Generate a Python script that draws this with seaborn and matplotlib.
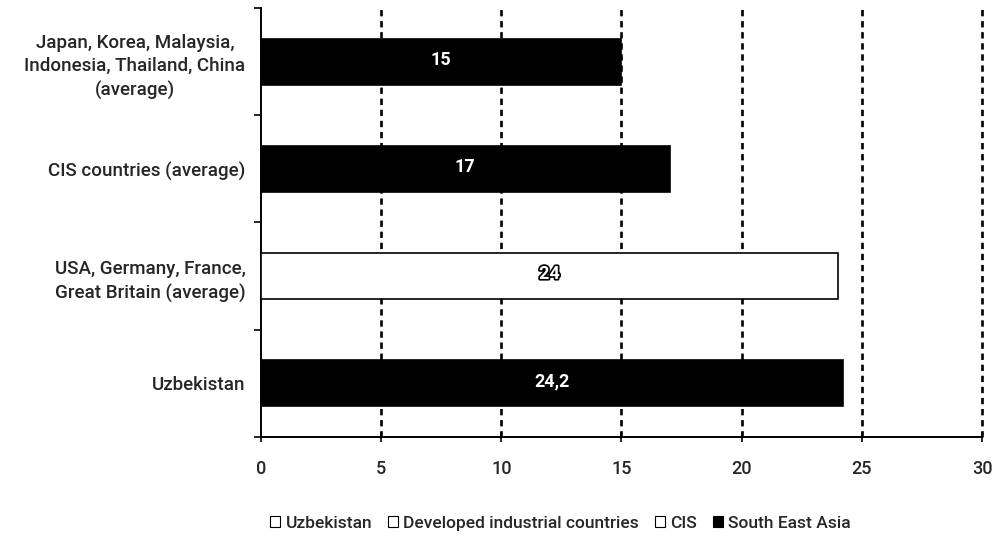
import matplotlib
matplotlib.use("Agg")
import matplotlib.pyplot as plt
import matplotlib.patheffects as pe
from matplotlib.patches import Patch
import seaborn as sns
import pandas as pd

# Category labels (top to bottom) and their values
categories = [
    "Japan, Korea, Malaysia,\nIndonesia, Thailand, China\n(average)",
    "CIS countries (average)",
    "USA, Germany, France,\nGreat Britain (average)",
    "Uzbekistan",
]
values = [15, 17, 24, 24.2]
value_labels = ["15", "17", "24", "24,2"]
bar_colors = ["black", "black", "white", "black"]

legend_labels = ["Uzbekistan", "Developed industrial countries", "CIS", "South East Asia"]
legend_colors = ["white", "white", "white", "black"]

x_ticks = [0, 5, 10, 15, 20, 25, 30]

sns.set_theme(style="white")
plt.rcParams["font.family"] = ["Roboto", "DejaVu Sans"]
plt.rcParams["font.weight"] = "medium"

df = pd.DataFrame({"category": categories, "value": values})

fig = plt.figure(figsize=(9.92, 5.42), dpi=100)
ax = fig.add_axes([0.263, 0.194, 0.727, 0.791])

sns.barplot(
    data=df, x="value", y="category", hue="category", orient="h",
    palette=dict(zip(categories, bar_colors)), width=0.43,
    edgecolor="black", linewidth=1.2, legend=False, ax=ax, zorder=3,
)

# Value labels centred on each bar
for i, (v, txt, c) in enumerate(zip(values, value_labels, bar_colors)):
    t = ax.text(v / 2, i - 0.02, txt, ha="center", va="center",
                color="white", fontsize=13, fontweight="bold", zorder=5)
    if c == "white":
        t.set_path_effects([pe.withStroke(linewidth=2.4, foreground="black")])

# Dashed vertical gridlines
for xv in x_ticks[1:]:
    ax.axvline(xv, color="black", linewidth=1.9, linestyle=(0, (2.4, 1.8)),
               zorder=1, clip_on=False)

ax.set_xlim(0, 30)
ax.set_ylim(3.5, -0.5)
ax.set_xticks(x_ticks)
ax.set_xticklabels([str(t) for t in x_ticks], fontsize=13)
ax.set_yticks(range(len(categories)))
ax.set_yticklabels(categories, fontsize=13.5, linespacing=1.4, multialignment="center")
ax.set_yticks([-0.5, 0.5, 1.5, 2.5, 3.5], minor=True)
ax.tick_params(axis="y", which="major", length=0, pad=11)
ax.tick_params(axis="y", which="minor", length=5, width=1.2, color="black", direction="out", left=True)
ax.tick_params(axis="x", which="major", length=7, width=1.2, color="black", direction="inout",
               bottom=True, pad=13)
ax.set_xlabel("")
ax.set_ylabel("")

for side in ["top", "right"]:
    ax.spines[side].set_visible(False)
for side in ["left", "bottom"]:
    ax.spines[side].set_color("black")
    ax.spines[side].set_linewidth(1.4)

handles = [Patch(facecolor=c, edgecolor="black", linewidth=0.8) for c in legend_colors]
fig.legend(handles, legend_labels, loc="center", bbox_to_anchor=(0.565, 0.035),
           ncol=4, frameon=False, fontsize=12.5, handlelength=0.6, handleheight=0.6,
           handletextpad=0.3, columnspacing=0.9)

fig.savefig("out.png", dpi=100)
